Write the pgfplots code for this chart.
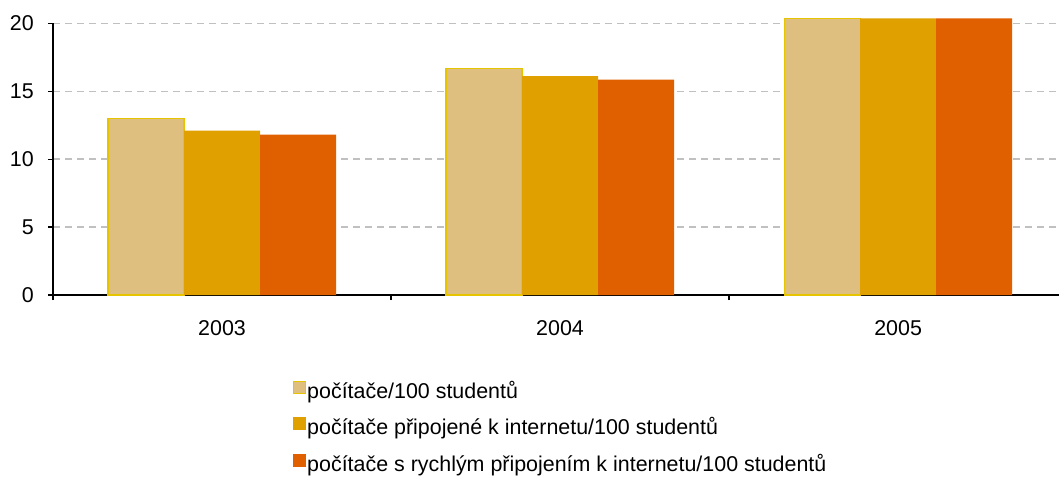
\documentclass[border=0pt]{standalone}
\usepackage{fontspec}
\setmainfont{Liberation Sans}
\usepackage{pgfplots}
\pgfplotsset{compat=1.18}

\definecolor{pcbar}{RGB}{223,191,128}
\definecolor{pcedge}{RGB}{230,196,0}
\definecolor{netbar}{RGB}{223,160,0}
\definecolor{fastbar}{RGB}{224,96,0}
\definecolor{gridgray}{RGB}{192,192,192}

% legend swatches are set per plot below
\pgfplotsset{/pgfplots/ybar legend/.style={}}

\begin{document}
\begin{tikzpicture}
\useasboundingbox (0,0) rectangle (1059bp,477bp);
\begin{axis}[
  at={(53bp,182bp)}, anchor=south west,
  width=1006bp, height=271.7bp, scale only axis,
  xmin=-0.5, xmax=2.476, ymin=0, ymax=20,
  clip=false,
  axis x line=bottom, axis y line=left,
  axis line style={-, black, line width=1.2bp},
  ybar=0pt, bar width=76bp,
  xtick={0,1,2}, xticklabels={2003,2004,2005},
  minor xtick={-0.5,0.5,1.5},
  ytick={0,5,10,15,20},
  tick align=outside,
  major tick length=5bp, minor tick length=5bp,
  tick style={black, line width=1.2bp},
  every major x tick/.append style={draw=none},
  ymajorgrids,
  major grid style={gridgray, dash pattern=on 7bp off 5bp, line width=1.3bp},
  font=\fontsize{21.5}{25}\selectfont,
  /pgf/number format/assume math mode=true,
  yticklabel style={inner sep=0pt, anchor=east, xshift=-14bp},
  xticklabel style={inner sep=0pt, anchor=north, yshift=-20bp},
  legend style={at={(0.2386,-0.315)}, anchor=north west, draw=none, fill=none,
    inner sep=0pt, row sep=15bp, column sep=1bp,
    nodes={inner sep=0pt, text height=15bp, text depth=4bp},
    cells={anchor=west}},
]
\addplot[fill=pcbar, draw=pcedge, line width=1.2bp,
  legend image code/.code={\draw[fill=pcbar, draw=pcedge, line width=1.2bp] (0.6bp,-0.4bp) rectangle (12.4bp,11.4bp);}]
  coordinates {(0,13.0) (1,16.69) (2,20.37)};
\addplot[fill=netbar, draw=none,
  legend image code/.code={\fill[netbar] (0bp,-1bp) rectangle (13bp,12bp);}]
  coordinates {(0,12.1) (1,16.12) (2,20.37)};
\addplot[fill=fastbar, draw=none,
  legend image code/.code={\fill[fastbar] (0bp,-1bp) rectangle (13bp,12bp);}]
  coordinates {(0,11.8) (1,15.85) (2,20.37)};
\legend{počítače/100 studentů,
  počítače připojené k internetu/100 studentů,
  počítače s rychlým připojením k internetu/100 studentů}
\end{axis}
\end{tikzpicture}
\end{document}
